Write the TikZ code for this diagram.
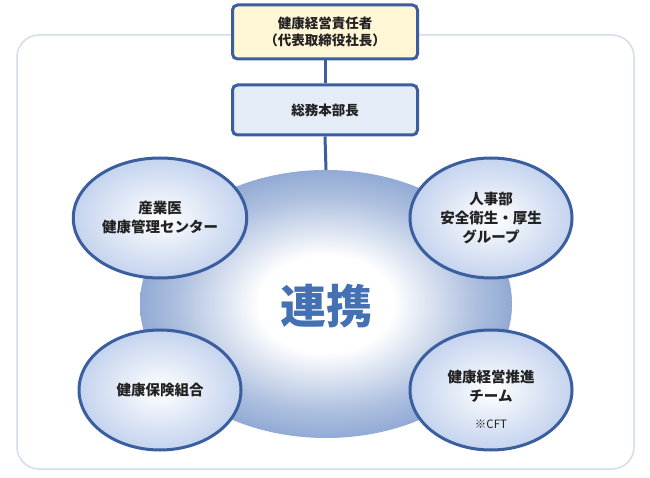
\documentclass[tikz,border=0pt]{standalone}
\usepackage{fontspec}
\setmainfont{Noto Sans CJK JP}
\usetikzlibrary{shapes.geometric}
\definecolor{dk}{HTML}{3A5E9E}
\definecolor{mid}{HTML}{4A72B8}
\definecolor{lt}{HTML}{C4D3EE}
\definecolor{frame}{HTML}{D3DDEB}
\definecolor{tx}{HTML}{222222}
\definecolor{ren}{HTML}{4470B4}
\definecolor{cream}{HTML}{FFF6D6}
\definecolor{pale}{HTML}{E4ECF7}
\pgfdeclareradialshading{bigsh}{\pgfpoint{0bp}{0bp}}{color(0bp)=(white); color(9bp)=(white); color(20bp)=(mid!45); color(33bp)=(mid!85); color(50bp)=(mid)}
\begin{document}
\begin{tikzpicture}[x=1pt,y=-1pt,
  topbox/.style={draw=dk,line width=3pt,rounded corners=5pt,minimum width=185pt,align=center,font=\bfseries\fontsize{13.5}{17}\selectfont,text=tx},
  bub/.style={ellipse,draw=dk,line width=3pt,minimum width=162pt,minimum height=120pt,inner color=white,outer color=lt,align=center,font=\bfseries\fontsize{14.5}{19}\selectfont,text=tx}]
\useasboundingbox (0,0) rectangle (650,478);
\fill[white] (0,0) rectangle (650,478);
\draw[frame,line width=1.5pt,rounded corners=22pt] (17,35) rectangle (634,469);
\node[ellipse,minimum width=372pt,minimum height=268pt,shading=bigsh,draw=none] (big) at (326,304) {};
\node[topbox,fill=cream,minimum height=54pt] (ceo) at (325,32) {健康経営責任者\\（代表取締役社長）};
\node[topbox,fill=pale,minimum height=50pt] (gm) at (325,110) {総務本部長};
\draw[dk,line width=3pt] (ceo.south) -- (gm.north);
\draw[dk,line width=3pt] (gm.south) -- (big.north);
\node[text=ren,font=\bfseries\fontsize{46}{48}\selectfont] (rk) at (326,306) {連携};
\node[bub] (a) at (160,218) {産業医\\健康管理センター};
\node[bub] (b) at (491,218) {人事部\\安全衛生・厚生\\グループ};
\node[bub] (c) at (160,390) {健康保険組合};
\node[bub] (d) at (491,390) {};
\node[align=center,font=\bfseries\fontsize{14.5}{19}\selectfont,text=tx] (dt) at (491,386) {健康経営推進\\チーム};
\node[font=\fontsize{11.5}{13}\selectfont,text=tx] (df) at (491,424) {※CFT};
\end{tikzpicture}
\end{document}
